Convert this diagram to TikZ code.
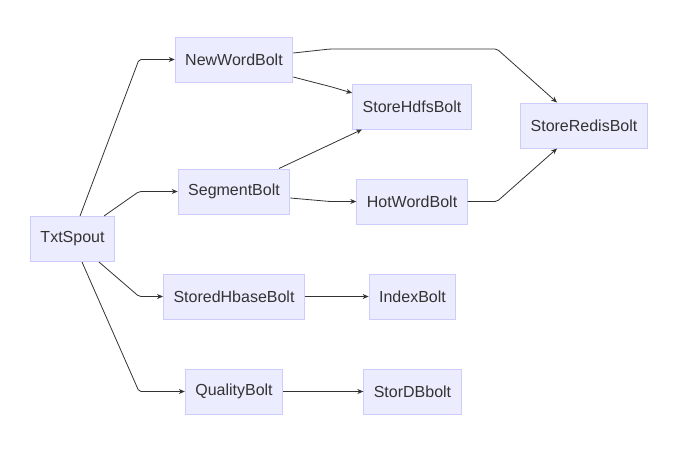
\documentclass[tikz,border=0pt]{standalone}
\usepackage{fontspec}
\setmainfont{Liberation Sans}
\usetikzlibrary{arrows.meta}
\definecolor{boltfill}{HTML}{ECECFF}
\definecolor{boltline}{HTML}{CCCCFF}
\definecolor{ink}{HTML}{333333}
\tikzstyle{bolt}=[rectangle,draw=boltline,fill=boltfill,line width=1pt,minimum height=45pt,inner xsep=10pt,text=ink,font=\fontsize{16}{19}\selectfont]
\tikzstyle{flow}=[draw=ink,line width=0.8pt,rounded corners=2pt,-{Stealth[length=6pt,width=5pt]}]

\begin{document}
\begin{tikzpicture}[x=1pt,y=-1pt]
\useasboundingbox (0,0) rectangle (676,459);
\node[bolt] at (72.5, 239) (txt) {TxtSpout};
\node[bolt] at (234, 59.5) (new) {NewWordBolt};
\node[bolt] at (234, 191.5) (seg) {SegmentBolt};
\node[bolt] at (234, 296.5) (hbase) {StoredHbaseBolt};
\node[bolt] at (234, 391.5) (qual) {QualityBolt};
\node[bolt] at (412, 106.5) (hdfs) {StoreHdfsBolt};
\node[bolt] at (412, 201.5) (hot) {HotWordBolt};
\node[bolt] at (412.5, 296.5) (index) {IndexBolt};
\node[bolt] at (412.5, 391.5) (stordb) {StorDBbolt};
\node[bolt] at (584, 125.5) (redis) {StoreRedisBolt};
\draw[flow] ([xshift=7.5pt]txt.north) -- (139, 59.5) -- (new.west);
\draw[flow] ([xshift=31.5pt]txt.north) -- (139, 191.5) -- (seg.west);
\draw[flow] ([xshift=26.5pt]txt.south) -- (139, 296.5) -- (hbase.west);
\draw[flow] ([xshift=9.5pt]txt.south) -- (139, 391.5) -- (qual.west);
\draw[flow] ([yshift=6.5pt]new.east) -- (330, 49) -- (497, 49) -- ([xshift=-27pt]redis.north);
\draw[flow] ([yshift=-17.5pt]new.east) -- (332, 87) -- ([yshift=13.5pt]hdfs.west);
\draw[flow] ([xshift=45pt]seg.north) -- ([xshift=-50pt]hdfs.south);
\draw[flow] ([yshift=-6.5pt]seg.east) -- (330, 201.5) -- (hot.west);
\draw[flow] (hot.east) -- (497, 201.5) -- ([xshift=-27pt]redis.south);
\draw[flow] (hbase) -- (index);
\draw[flow] (qual) -- (stordb);
\end{tikzpicture}
\end{document}
